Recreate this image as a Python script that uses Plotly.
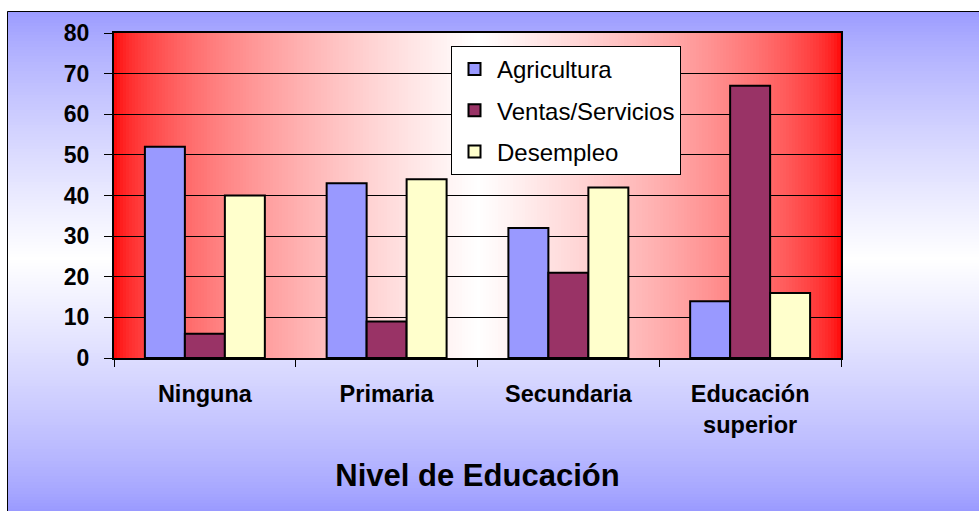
import plotly.graph_objects as go

categories = ["Ninguna", "Primaria", "Secundaria", "Educación<br>superior"]
agricultura = [52, 43, 32, 14]
ventas = [6, 9, 21, 67]
desempleo = [40, 44, 42, 16]
series_names = ["Agricultura", "Ventas/Servicios", "Desempleo"]
series_colors = ["#9999FF", "#993366", "#FFFFCC"]
y_ticks = [0, 10, 20, 30, 40, 50, 60, 70, 80]

W, H = 979, 511
L, R, T, B = 114, 841, 33, 358
pw, ph = R - L, B - T

def px_x(x):
    return (x - L) / pw

def px_y(y):
    return (B - y) / ph

FONT = "Arial, 'Liberation Sans', sans-serif"

fig = go.Figure()
for name, vals, col in zip(series_names, [agricultura, ventas, desempleo], series_colors):
    fig.add_trace(go.Bar(
        x=categories, y=vals, name=name, legendgroup=name,
        marker=dict(color=col, line=dict(color="black", width=2)),
    ))

shapes = []
# figure background: vertical gradient periwinkle - white - periwinkle
top, bot, mid = 11, 511, 258
step = 3
y = top
while y < bot:
    yc = y + step / 2
    if yc < mid:
        d = (yc - top) / (mid - top)
    else:
        d = (bot - yc) / (bot - mid)
    d = max(0.0, min(1.0, d))
    s = d ** 0.8
    r = int(round(153 + (255 - 153) * s))
    shapes.append(dict(type="rect", xref="paper", yref="paper", layer="below",
                       x0=px_x(7), x1=px_x(W + 2), y0=px_y(y + step + 1), y1=px_y(y),
                       fillcolor=f"rgb({r},{r},255)", line=dict(width=0)))
    y += step
# plot area gradient: red - white - red horizontally
cx = (L + R) / 2
x = L
while x < R:
    xc = x + step / 2
    d = abs(xc - cx) / (cx - L)
    d = 1 - max(0.0, min(1.0, d))
    g = int(round(255 * (d ** 0.55)))
    shapes.append(dict(type="rect", xref="paper", yref="paper", layer="below",
                       x0=px_x(x), x1=min(1.0, px_x(x + step + 1)), y0=0, y1=1,
                       fillcolor=f"rgb(255,{g},{g})", line=dict(width=0)))
    x += step
# outer frame
shapes.append(dict(type="rect", xref="paper", yref="paper", layer="below",
                   x0=px_x(7.5), x1=px_x(W + 5), y0=px_y(H + 5), y1=px_y(11.5),
                   fillcolor="rgba(0,0,0,0)", line=dict(color="black", width=1)))

fig.update_layout(
    width=W, height=H,
    margin=dict(l=L, r=W - R, t=T, b=H - B, pad=0),
    paper_bgcolor="white",
    plot_bgcolor="rgba(0,0,0,0)",
    font=dict(family=FONT, color="black"),
    barmode="group", bargap=0.34, bargroupgap=0,
    shapes=shapes,
    showlegend=True,
    legend=dict(
        x=px_x(451), y=px_y(46), xanchor="left", yanchor="top",
        bgcolor="white", bordercolor="black", borderwidth=1,
        font=dict(family=FONT, size=24, color="black"),
        traceorder="grouped", tracegroupgap=7, itemwidth=35,
    ),
    xaxis=dict(
        showline=True, linecolor="black", linewidth=2, mirror=True,
        ticks="outside", tickson="boundaries", ticklen=7, tickcolor="black", tickwidth=1,
        tickfont=dict(family=FONT, size=23.5, color="black", weight="bold"),
        ticklabelstandoff=14,
        showgrid=False,
        title=dict(text="<b>Nivel de Educación</b>", font=dict(family=FONT, size=31, color="black"),
                   standoff=28),
    ),
    yaxis=dict(
        range=[0, 80], tickvals=y_ticks,
        showline=True, linecolor="black", linewidth=2, mirror=True,
        ticks="outside", ticklen=8, tickcolor="black", tickwidth=1,
        tickfont=dict(family=FONT, size=23, color="black", weight="bold"),
        ticklabelstandoff=10,
        showgrid=True, gridcolor="black", gridwidth=1,
        zeroline=False,
    ),
)

html = fig.to_html(full_html=True, include_plotlyjs=True,
                   config={"displayModeBar": False, "staticPlot": True})
html = html.replace("<body>", '<body style="margin:0;padding:0;">', 1)
with open("out.html", "w", encoding="utf-8") as f:
    f.write(html)
